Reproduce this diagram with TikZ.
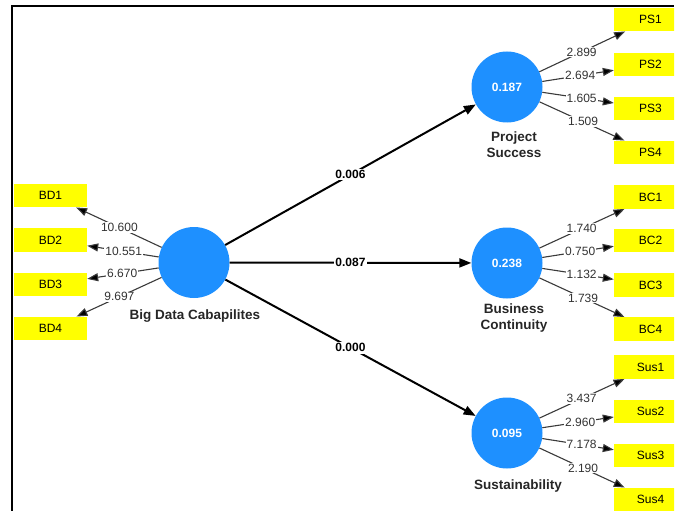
\documentclass[tikz,border=0pt]{standalone}
\usepackage{fontspec}
\setmainfont{Liberation Sans}
\usetikzlibrary{arrows.meta,calc}
\definecolor{lvblue}{HTML}{1E90FF}
\definecolor{mvyellow}{HTML}{FFFF00}
\definecolor{edgegray}{HTML}{3A3A3A}
\definecolor{labgray}{HTML}{333333}
\begin{document}
\begin{tikzpicture}[x=1pt,y=-1pt,
  latent/.style={circle,fill=lvblue,minimum size=71pt,inner sep=0pt,text=white,font=\bfseries\fontsize{12}{14}\selectfont},
  indic/.style={rectangle,fill=mvyellow,minimum width=73pt,minimum height=23.5pt,inner sep=0pt,font=\fontsize{12}{14}\selectfont},
  latname/.style={align=center,inner sep=0pt,font=\bfseries\fontsize{13.5}{16.5}\selectfont,text=black!85},
  mainarrow/.style={draw=black,line width=2pt,-{Triangle[length=12pt,width=9pt]}},
  smallarrow/.style={draw=edgegray,line width=1.1pt,-{Triangle[length=11pt,width=8pt,fill=black]}},
  mainlabel/.style={fill=white,inner sep=1.5pt,font=\bfseries\fontsize{12}{14}\selectfont},
  smalllabel/.style={fill=white,inner sep=1pt,text=labgray,font=\fontsize{12}{14}\selectfont}
]
\useasboundingbox (0,0) rectangle (678,511);
\begin{scope}
\clip (0,0) rectangle (674,511);
\draw[line width=2pt] (12,511) -- (12,6) -- (674,6);

% latent variables
\node[latent] (bdc) at (194,262.5) {};
\node[latent] (ps) at (507,87) {0.187};
\node[latent] (bc) at (507,263) {0.238};
\node[latent] (sus) at (507,433) {0.095};

\node[latname] (bdcname) at (195,316) {Big Data Cabapilites};
\node[latname] (psname) at (514,144.5) {Project\\Success};
\node[latname] (bcname) at (514,318) {Business\\Continuity};
\node[latname] (susname) at (518,486) {Sustainability};

% indicators
\node[indic] (bd1) at (50.5,195.5) {BD1};
\node[indic] (bd2) at (50.5,240) {BD2};
\node[indic] (bd3) at (50.5,284.5) {BD3};
\node[indic] (bd4) at (50.5,328.5) {BD4};

\node[indic] (ps1) at (650.5,19.5) {PS1};
\node[indic] (ps2) at (650.5,64.5) {PS2};
\node[indic] (ps3) at (650.5,108.5) {PS3};
\node[indic] (ps4) at (650.5,152.5) {PS4};

\node[indic] (bc1) at (650.5,197) {BC1};
\node[indic] (bc2) at (650.5,240.5) {BC2};
\node[indic] (bc3) at (650.5,285) {BC3};
\node[indic] (bc4) at (650.5,329) {BC4};

\node[indic] (sus1) at (650.5,367) {Sus1};
\node[indic] (sus2) at (650.5,411.5) {Sus2};
\node[indic] (sus3) at (650.5,455.5) {Sus3};
\node[indic] (sus4) at (650.5,499.5) {Sus4};

% structural paths
\draw[mainarrow] (bdc) -- node[mainlabel]{0.006} (ps);
\draw[mainarrow] (bdc) -- node[mainlabel]{0.087} (bc);
\draw[mainarrow] (bdc) -- node[mainlabel]{0.000} (sus);

% measurement paths
\foreach \a/\b in {bdc/bd1,bdc/bd2,bdc/bd3,bdc/bd4,ps/ps1,ps/ps2,ps/ps3,ps/ps4,bc/bc1,bc/bc2,bc/bc3,bc/bc4,sus/sus1,sus/sus2,sus/sus3,sus/sus4}
  \draw[smallarrow] (\a) -- (\b);

\node[smalllabel] (l1) at ($(bdc)!0.52!(bd1)$) {10.600};
\node[smalllabel] (l2) at ($(bdc)!0.49!(bd2)$) {10.551};
\node[smalllabel] (l3) at ($(bdc)!0.50!(bd3)$) {6.670};
\node[smalllabel] (l4) at ($(bdc)!0.52!(bd4)$) {9.697};

\node[smalllabel] (l5) at ($(ps)!0.52!(ps1)$) {2.899};
\node[smalllabel] (l6) at ($(ps)!0.51!(ps2)$) {2.694};
\node[smalllabel] (l7) at ($(ps)!0.52!(ps3)$) {1.605};
\node[smalllabel] (l8) at ($(ps)!0.53!(ps4)$) {1.509};

\node[smalllabel] (l9) at ($(bc)!0.52!(bc1)$) {1.740};
\node[smalllabel] (l10) at ($(bc)!0.51!(bc2)$) {0.750};
\node[smalllabel] (l11) at ($(bc)!0.52!(bc3)$) {1.132};
\node[smalllabel] (l12) at ($(bc)!0.53!(bc4)$) {1.739};

\node[smalllabel] (l13) at ($(sus)!0.52!(sus1)$) {3.437};
\node[smalllabel] (l14) at ($(sus)!0.51!(sus2)$) {2.960};
\node[smalllabel] (l15) at ($(sus)!0.52!(sus3)$) {7.178};
\node[smalllabel] (l16) at ($(sus)!0.53!(sus4)$) {2.190};
\end{scope}
\end{tikzpicture}
\end{document}
